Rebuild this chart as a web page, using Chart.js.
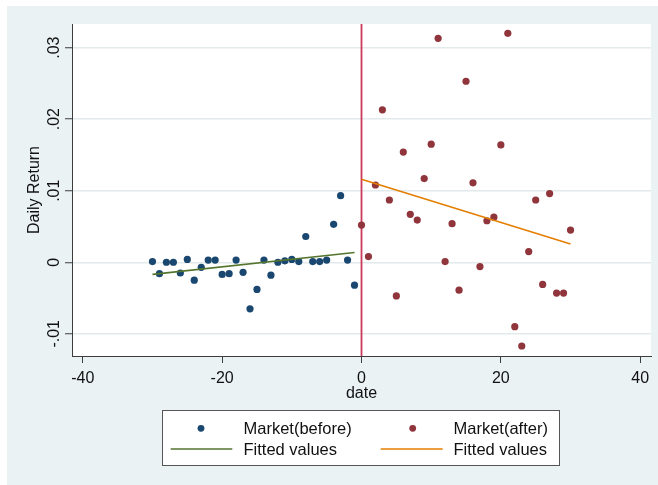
<!DOCTYPE html>
<html>
<head>
<meta charset="utf-8">
<script src="https://cdn.jsdelivr.net/npm/chart.js@4.4.1/dist/chart.umd.min.js"></script>
<style>
  html, body { margin: 0; padding: 0; background: #ffffff; }
  #wrap { width: 658px; height: 485px; position: relative; }
  canvas { display: block; }
</style>
</head>
<body>
<div id="wrap"><canvas id="chart" width="658" height="485"></canvas></div>
<script>
// Event window: trading days relative to the event (day 0)
const daysBefore = [-30, -29, -28, -27, -26, -25, -24, -23, -22, -21, -20, -19, -18, -17, -16,
                    -15, -14, -13, -12, -11, -10, -9, -8, -7, -6, -5, -4, -3, -2, -1];
const returnsBefore = [0.0001, -0.0016, 0.0000, 0.0000, -0.0015, 0.0004, -0.0025, -0.0007, 0.0003, 0.0003,
                       -0.0017, -0.0016, 0.0003, -0.0014, -0.0065, -0.0038, 0.0003, -0.0018, 0.0000, 0.0002,
                       0.0004, 0.0001, 0.0036, 0.0001, 0.0001, 0.0003, 0.0053, 0.0093, 0.0003, -0.0032];

const daysAfter = [0, 1, 2, 3, 4, 5, 6, 7, 8, 9, 10, 11, 12, 13, 14, 15,
                   16, 17, 18, 19, 20, 21, 22, 23, 24, 25, 26, 27, 28, 29, 30];
const returnsAfter = [0.0052, 0.0008, 0.0108, 0.0213, 0.0087, -0.0047, 0.0154, 0.0067, 0.0059, 0.0117,
                      0.0165, 0.0313, 0.0001, 0.0054, -0.0039, 0.0253, 0.0111, -0.0006, 0.0058, 0.0063,
                      0.0164, 0.0320, -0.0090, -0.0117, 0.0015, 0.0087, -0.0031, 0.0096, -0.0043, -0.0043,
                      0.0045];

const xTicks = [-40, -20, 0, 20, 40];
const xTickLabels = ['-40', '-20', '0', '20', '40'];
const yTicks = [-0.01, 0, 0.01, 0.02, 0.03];
const yTickLabels = ['-.01', '0', '.01', '.02', '.03'];
const eventDay = 0;

const seriesNames = ['Market(before)', 'Market(after)', 'Fitted values', 'Fitted values'];

// Least-squares line over the observed range of x
function linearFit(xs, ys) {
  const n = xs.length;
  const mx = xs.reduce((a, b) => a + b, 0) / n;
  const my = ys.reduce((a, b) => a + b, 0) / n;
  let sxy = 0, sxx = 0;
  for (let i = 0; i < n; i++) {
    sxy += (xs[i] - mx) * (ys[i] - my);
    sxx += (xs[i] - mx) * (xs[i] - mx);
  }
  const b = sxy / sxx, a = my - b * mx;
  const lo = Math.min(...xs), hi = Math.max(...xs);
  return [{ x: lo, y: a + b * lo }, { x: hi, y: a + b * hi }];
}

const toPoints = (xs, ys) => xs.map((x, i) => ({ x, y: ys[i] }));

const NAVY = '#1a476f', MAROON = '#90353b', GREEN = '#55752f', ORANGE = '#e37e00';
const XLINE = '#cc3a5c';
const FONT = '"Liberation Sans", Arial, sans-serif';
const TEXT = '#111111';
const AXIS = '#3c3c3c';

// Backgrounds: outer graph region and white plot region
const backgroundPlugin = {
  id: 'stataBackground',
  beforeDraw(chart) {
    const { ctx, chartArea: a } = chart;
    ctx.save();
    ctx.fillStyle = '#ffffff';
    ctx.fillRect(0, 0, chart.width, chart.height);
    ctx.fillStyle = '#eaf2f3';
    ctx.fillRect(7, 6, chart.width - 7, chart.height - 6);
    ctx.fillStyle = '#ffffff';
    ctx.fillRect(a.left, a.top, a.right - a.left, a.bottom - a.top);
    ctx.restore();
  }
};

// Vertical reference line at the event day
const eventLinePlugin = {
  id: 'eventLine',
  beforeDatasetsDraw(chart) {
    const { ctx, chartArea: a, scales: { x } } = chart;
    const px = x.getPixelForValue(eventDay);
    ctx.save();
    ctx.strokeStyle = XLINE;
    ctx.lineWidth = 1.8;
    ctx.beginPath();
    ctx.moveTo(px, a.top);
    ctx.lineTo(px, a.bottom);
    ctx.stroke();
    ctx.restore();
  }
};

// Axis labels, titles and the boxed two-column legend
const labelsPlugin = {
  id: 'stataLabels',
  afterDraw(chart) {
    const { ctx, chartArea: a, scales: { x, y } } = chart;
    ctx.save();
    ctx.fillStyle = TEXT;
    ctx.font = '16px ' + FONT;

    // x tick labels and title
    ctx.textAlign = 'center';
    ctx.textBaseline = 'alphabetic';
    xTicks.forEach((v, i) => ctx.fillText(xTickLabels[i], x.getPixelForValue(v), 382.5));
    ctx.fillText('date', (a.left + a.right) / 2, 397.5);

    // y tick labels (rotated) and title
    yTicks.forEach((v, i) => {
      ctx.save();
      ctx.translate(58.5, y.getPixelForValue(v));
      ctx.rotate(-Math.PI / 2);
      ctx.fillText(yTickLabels[i], 0, 0);
      ctx.restore();
    });
    ctx.save();
    ctx.translate(38.5, (a.top + a.bottom) / 2);
    ctx.rotate(-Math.PI / 2);
    ctx.fillText('Daily Return', 0, 0);
    ctx.restore();

    // legend
    const box = { left: 162.5, top: 410.5, w: 397, h: 55 };
    ctx.fillStyle = '#ffffff';
    ctx.fillRect(box.left, box.top, box.w, box.h);
    ctx.strokeStyle = '#555555';
    ctx.lineWidth = 1;
    ctx.strokeRect(box.left, box.top, box.w, box.h);

    const ds = chart.data.datasets;
    const cols = [{ key: 201, line: [170.7, 232.3], text: 243.5 },
                  { key: 412.7, line: [380.7, 442.7], text: 453.5 }];
    const rowY = [428.3, 449];
    ctx.font = '16.5px ' + FONT;
    ctx.textAlign = 'left';
    // scatter entries
    [0, 1].forEach(c => {
      const d = ds[c];
      ctx.fillStyle = d.backgroundColor;
      ctx.beginPath();
      ctx.arc(cols[c].key, rowY[0], 3.4, 0, Math.PI * 2);
      ctx.fill();
      ctx.fillStyle = TEXT;
      ctx.fillText(d.label, cols[c].text, rowY[0] + 6);
    });
    // fitted-line entries
    [2, 3].forEach((di, c) => {
      const d = ds[di];
      ctx.strokeStyle = d.borderColor;
      ctx.lineWidth = d.borderWidth;
      ctx.beginPath();
      ctx.moveTo(cols[c].line[0], rowY[1]);
      ctx.lineTo(cols[c].line[1], rowY[1]);
      ctx.stroke();
      ctx.fillStyle = TEXT;
      ctx.fillText(d.label, cols[c].text, rowY[1] + 6);
    });
    ctx.restore();
  }
};

new Chart(document.getElementById('chart'), {
  type: 'scatter',
  data: {
    datasets: [
      {
        label: seriesNames[0],
        data: toPoints(daysBefore, returnsBefore),
        backgroundColor: NAVY, borderColor: NAVY,
        pointRadius: 3.6, borderWidth: 0, order: 1
      },
      {
        label: seriesNames[1],
        data: toPoints(daysAfter, returnsAfter),
        backgroundColor: MAROON, borderColor: MAROON,
        pointRadius: 3.6, borderWidth: 0, order: 1
      },
      {
        label: seriesNames[2],
        data: linearFit(daysBefore, returnsBefore),
        type: 'line', showLine: true, fill: false,
        borderColor: GREEN, backgroundColor: GREEN, borderWidth: 1.6,
        pointRadius: 0, order: 0
      },
      {
        label: seriesNames[3],
        data: linearFit(daysAfter, returnsAfter),
        type: 'line', showLine: true, fill: false,
        borderColor: ORANGE, backgroundColor: ORANGE, borderWidth: 1.6,
        pointRadius: 0, order: 0
      }
    ]
  },
  options: {
    responsive: false,
    animation: false,
    devicePixelRatio: 1,
    layout: { autoPadding: false, padding: { left: 0, top: 24, right: 7, bottom: 0 } },
    plugins: { legend: { display: false }, tooltip: { enabled: false } },
    scales: {
      x: {
        type: 'linear',
        min: -41.55, max: 41.55,
        afterBuildTicks: s => { s.ticks = xTicks.map(v => ({ value: v })); },
        afterFit: s => { s.height = 129; },
        ticks: { display: false },
        grid: { drawOnChartArea: false, drawTicks: true, tickLength: 7, tickColor: AXIS, tickWidth: 1 },
        border: { display: true, color: AXIS, width: 1 }
      },
      y: {
        type: 'linear',
        min: -0.0131, max: 0.0333,
        afterBuildTicks: s => { s.ticks = yTicks.map(v => ({ value: v })); },
        afterFit: s => { s.width = 72; },
        ticks: { display: false },
        grid: { color: '#e2eaec', lineWidth: 1.5, drawTicks: true, tickLength: 7, tickColor: AXIS, tickWidth: 1 },
        border: { display: true, color: AXIS, width: 1 }
      }
    }
  },
  plugins: [backgroundPlugin, eventLinePlugin, labelsPlugin]
});
</script>
</body>
</html>
